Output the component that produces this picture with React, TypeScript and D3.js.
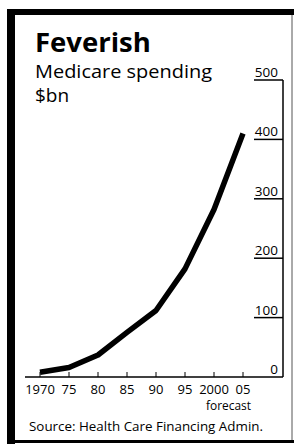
import React from 'react';
import * as d3 from 'd3';

const years = [1970, 1975, 1980, 1985, 1990, 1995, 2000, 2005];
const spending = [8, 16, 37, 75, 112, 182, 282, 410];
const xTickLabels = ['1970', '75', '80', '85', '90', '95', '2000', '05'];
const yTicks = [0, 100, 200, 300, 400, 500];

const W = 294;
const H = 444;
const font = '"Open Sans", "DejaVu Sans", sans-serif';

const App = () => {
  const x = d3.scaleLinear().domain([1970, 2005]).range([40, 243]);
  const y = d3.scaleLinear().domain([0, 500]).range([377, 80]);
  const axisX = 283;

  const line = d3.line<number>()
    .x((d, i) => x(years[i]))
    .y(d => y(d));

  return (
    <svg width={W} height={H} style={{ position: 'absolute', left: 0, top: 0, background: '#fff' }}>
      {/* frame */}
      <rect x={7} y={9} width={W - 7} height={6} fill="#000" />
      <rect x={7} y={9} width={8} height={H - 9} fill="#000" />
      <rect x={7} y={440} width={W - 7} height={3} fill="#000" />
      <line x1={292} x2={292} y1={15} y2={440} stroke="#555" strokeWidth={1} />

      {/* titles */}
      <text x={35} y={52} fontFamily={font} fontWeight="bold" fontSize={27.5}>Feverish</text>
      <text x={35} y={78} fontFamily={font} fontSize={19} textLength={177} lengthAdjust="spacingAndGlyphs">Medicare spending</text>
      <text x={35} y={102} fontFamily={font} fontSize={19}>$bn</text>

      {/* y axis */}
      <line x1={axisX} x2={axisX} y1={y(500)} y2={y(0)} stroke="#000" strokeWidth={1.5} />
      {yTicks.map(t => (
        <g key={t}>
          {t > 0 && (
            <line x1={254} x2={axisX} y1={y(t)} y2={y(t)} stroke="#000" strokeWidth={1.5} />
          )}
          <text x={278} y={y(t) - 3} textAnchor="end" fontFamily={font} fontSize={13.5}>{t}</text>
        </g>
      ))}

      {/* x axis */}
      <line x1={25} x2={axisX} y1={y(0)} y2={y(0)} stroke="#000" strokeWidth={1.5} />
      {years.map((yr, i) => (
        <g key={yr}>
          <line x1={x(yr)} x2={x(yr)} y1={y(0)} y2={y(0) - 5} stroke="#000" strokeWidth={1} />
          <text x={x(yr)} y={394} textAnchor="middle" fontFamily={font} fontSize={13}>{xTickLabels[i]}</text>
        </g>
      ))}
      <text x={(x(2000) + x(2005)) / 2} y={410} textAnchor="middle" fontFamily={font} fontSize={12}
        textLength={45} lengthAdjust="spacingAndGlyphs">forecast</text>

      {/* data line */}
      <path d={line(spending) || ''} fill="none" stroke="#000" strokeWidth={5.5} strokeLinejoin="round" strokeLinecap="butt" />

      <text x={29} y={431} fontFamily={font} fontSize={12.5} textLength={234} lengthAdjust="spacingAndGlyphs">Source:  Health Care Financing Admin.</text>
    </svg>
  );
};

export default App;
